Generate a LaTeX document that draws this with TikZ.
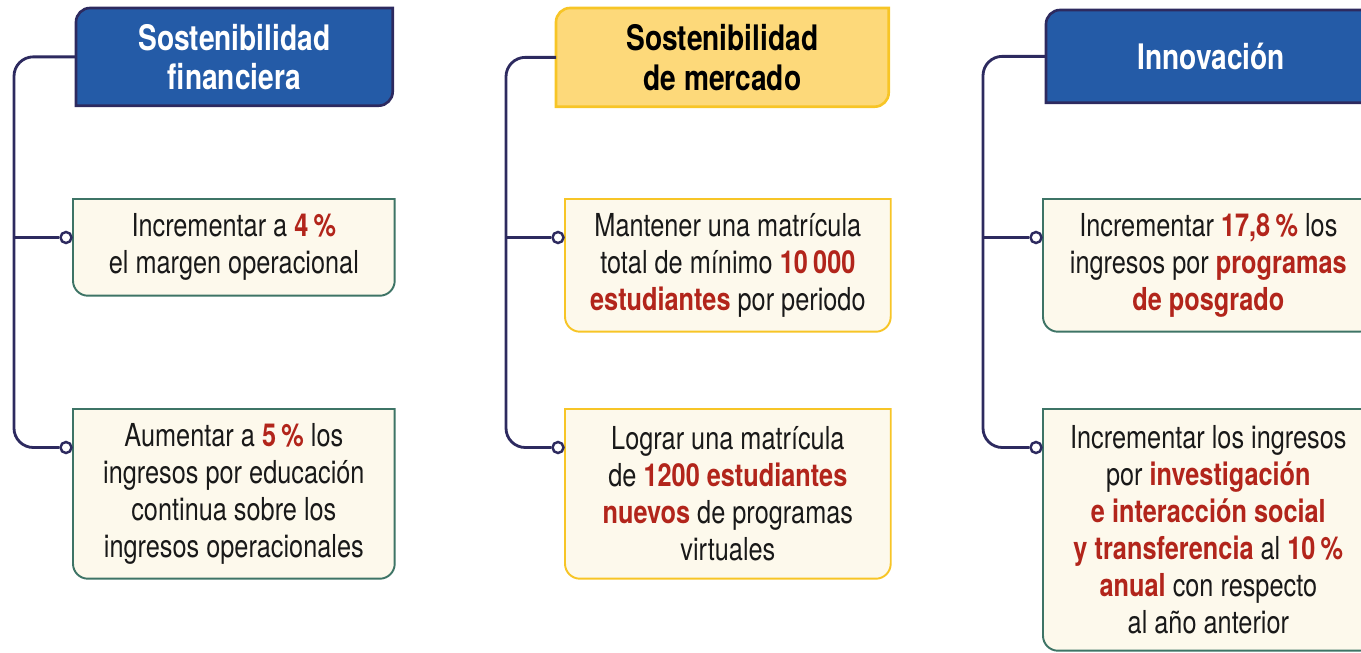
\documentclass[tikz,border=0pt]{standalone}
\usepackage{fontspec}
\setmainfont[FakeStretch=0.8]{TeX Gyre Heros}
\usetikzlibrary{positioning,calc,backgrounds}

\definecolor{hblue}{HTML}{245BA7}
\definecolor{navy}{HTML}{2D2A5F}
\definecolor{hyellow}{HTML}{FDD97A}
\definecolor{yline}{HTML}{F7C526}
\definecolor{cream}{HTML}{FDF9EC}
\definecolor{gline}{HTML}{3E7466}
\definecolor{kpired}{HTML}{B2251B}

\newcommand\kpi[1]{\textbf{\color{kpired}#1}}
\def\px{0.02cm}

\begin{document}
\begin{tikzpicture}[
	x=0.02cm, y=-0.02cm,
	head/.style={anchor=north west, inner sep=0pt, align=center, font=\fontsize{20}{22.5}\selectfont\bfseries},
	goal/.style={anchor=north west, inner sep=0pt, align=center, text=black!90, font=\fontsize{18}{21}\selectfont},
	hdrblue/.style={fill=hblue, draw=navy, line width=1.5pt},
	hdryellow/.style={fill=hyellow, draw=yline, line width=1.5pt},
	goalgreen/.style={fill=cream, draw=gline, line width=1.1pt},
	goalyellow/.style={fill=cream, draw=yline, line width=1.1pt},
	dot/.style={circle, draw=navy, line width=1.4pt, fill=white, minimum size=11*\px, inner sep=0pt},
	link/.style={draw=navy, line width=1.6pt, rounded corners=11pt}
	]
	
	\useasboundingbox (0,0) rectangle (1361,652);
	
	%-----------------------
	% Headers
	%-----------------------
	\node[head, text=white, minimum width=316*\px, minimum height=97*\px] (fin) at (76,8) {Sostenibilidad\\financiera};
	\node[head, text=black, minimum width=332*\px, minimum height=98*\px] (mer) at (556,8) {Sostenibilidad\\de mercado};
	\node[head, text=white, minimum width=330*\px, minimum height=92*\px] (inn) at (1046,10) {Innovación};
	
	%-----------------------
	% Goals
	%-----------------------
	\node[goal, minimum width=321*\px, minimum height=96*\px] (fin1) at (73,199) {Incrementar a \kpi{4\,\%}\\el margen operacional};
	\node[goal, minimum width=321*\px, minimum height=169*\px] (fin2) at (73,409) {Aumentar a \kpi{5\,\%} los\\ingresos por educación\\continua sobre los\\ingresos operacionales};
	
	\node[goal, minimum width=325*\px, minimum height=132*\px] (mer1) at (565,199) {Mantener una matrícula\\total de mínimo \kpi{10\,000}\\\kpi{estudiantes} por periodo};
	\node[goal, minimum width=325*\px, minimum height=169*\px] (mer2) at (565,409) {Lograr una matrícula\\de \kpi{1200 estudiantes}\\\kpi{nuevos} de programas\\virtuales};
	
	\node[goal, minimum width=330*\px, minimum height=132*\px] (inn1) at (1043,199) {Incrementar \kpi{17,8\,\%} los\\ingresos por \kpi{programas}\\\kpi{de posgrado}};
	\node[goal, minimum width=330*\px, minimum height=241*\px] (inn2) at (1043,409) {Incrementar los ingresos\\por \kpi{investigación}\\\kpi{e interacción social}\\\kpi{y transferencia} al \kpi{10\,\%}\\\kpi{anual} con respecto\\al año anterior};
	
	% frames behind the texts
	\begin{pgfonlayer}{background}
		\foreach \n/\s in {fin/hdrblue, mer/hdryellow, inn/hdrblue}
		\draw[\s] (\n.north) -- (\n.north east) [rounded corners=8pt] -- (\n.south east) [sharp corners] -- (\n.south west) [rounded corners=8pt] -- (\n.north west) [sharp corners] -- cycle;
		\foreach \n/\s in {fin1/goalgreen, fin2/goalgreen, mer1/goalyellow, mer2/goalyellow, inn1/goalgreen, inn2/goalgreen}
		\draw[\s] (\n.north) -- (\n.north east) [rounded corners=8.5pt] -- (\n.south east) -- (\n.south west) [sharp corners] -- (\n.north west) -- cycle;
	\end{pgfonlayer}
	
	%-----------------------
	% Connectors
	%-----------------------
	\coordinate (sfin) at (14,300);
	\coordinate (smer) at (506,300);
	\coordinate (sinn) at (983,300);
	
	\foreach \n in {fin1,fin2,mer1,mer2,inn1,inn2}
	\node[dot] (d\n) at ($(\n.north west)+(-7,38.5)$) {};
	
	\draw[link] (fin.west) -| (sfin) |- (dfin2.west);
	\draw[link] (dfin1.west -| sfin) -- (dfin1.west);
	
	\draw[link] (mer.west) -| (smer) |- (dmer2.west);
	\draw[link] (dmer1.west -| smer) -- (dmer1.west);
	
	\draw[link] (inn.west) -| (sinn) |- (dinn2.west);
	\draw[link] (dinn1.west -| sinn) -- (dinn1.west);
	
\end{tikzpicture}
\end{document}
